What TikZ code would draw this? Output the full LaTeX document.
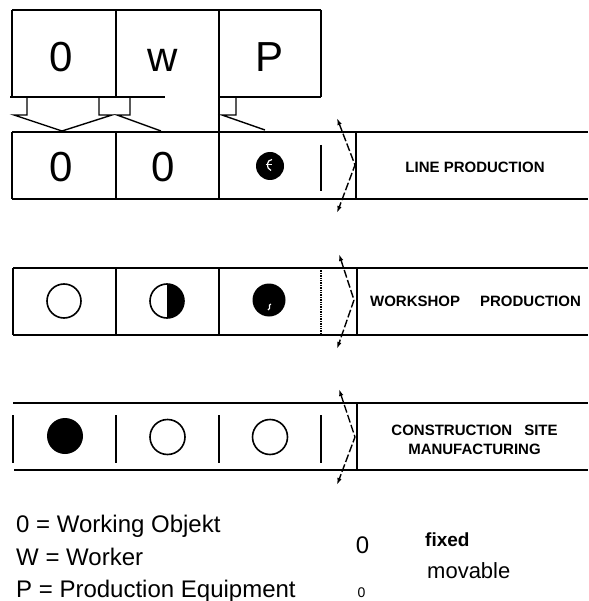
\documentclass[tikz,border=0pt]{standalone}
\usepackage{fontspec}
\setmainfont{Liberation Sans}
\usetikzlibrary{arrows.meta}
\begin{document}
\begin{tikzpicture}[x=1pt,y=-1pt,
  frame/.style={line width=1.7pt},
  thinrule/.style={line width=1.4pt},
  ring/.style={line width=1.6pt},
  bigtxt/.style={font=\fontsize{42}{42}\selectfont, inner sep=0pt, anchor=base},
  kindtxt/.style={font=\bfseries\fontsize{15}{19}\selectfont, inner sep=0pt, align=center},
  keytxt/.style={font=\fontsize{24}{24}\selectfont, inner sep=0pt, anchor=base west},
  flowmark/.style={line width=1.4pt, dash pattern=on 8pt off 2.5pt,
    {Latex[length=7pt,width=4.5pt]}-{Latex[length=7pt,width=4.5pt]}},
  feed/.style={line width=1.4pt, line join=miter},
]
\useasboundingbox (0,0) rectangle (588,601);

% ---- input cells: object, worker, equipment
\draw[frame] (12,10) -- (321,10);
\draw[frame] (12,10) -- (12,97);
\draw[frame] (116,10) -- (116,97);
\draw[frame] (219,10) -- (219,199);
\draw[frame] (321,10) -- (321,97);
\draw[frame] (10,97) -- (165,97);
\draw[frame] (219,97) -- (321,97);
\node[bigtxt] (inO) at (61,72) {0};
\node[bigtxt] (inW) at (163,72) {w};
\node[bigtxt] (inP) at (270,72) {P};

% ---- feed arrows into the first row
\draw[feed] (27,97) -- (27,115) -- (14,115) -- (62,131) -- (112,115) -- (99,115) -- (99,97);
\draw[feed] (130,97) -- (130,115) -- (117,115) -- (161,131);
\draw[feed] (236,97) -- (236,115) -- (222,115) -- (265,130);

% ---- row 1: line production
\draw[frame] (12,132) -- (588,132);
\draw[frame] (12,199) -- (588,199);
\draw[frame] (12,132) -- (12,199);
\draw[frame] (116,132) -- (116,199);
\draw[thinrule] (321,145) -- (321,191);
\draw[frame] (356,132) -- (356,199);
\draw[flowmark] (337,118) -- (355,165) -- (337,213);
\node[bigtxt] (r1O) at (61,182) {0};
\node[bigtxt] (r1W) at (163,182) {0};
\fill (270,166) circle (14);
\draw[white, line width=1.2pt] (272,159.5) .. controls (266.5,159.5) and (265.5,168.5) .. (271,170.5);
\draw[white, line width=1pt] (265.5,165) -- (272,165);
\node[kindtxt] (r1lab) at (475,167) {LINE PRODUCTION};

% ---- row 2: workshop production
\draw[frame] (13,268) -- (588,268);
\draw[frame] (13,335) -- (588,335);
\draw[frame] (13,268) -- (13,335);
\draw[frame] (116,268) -- (116,335);
\draw[frame] (219,268) -- (219,335);
\draw[thinrule, densely dotted] (321,268) -- (321,335);
\draw[frame] (357,268) -- (357,335);
\draw[flowmark] (339,254) -- (354,300) -- (337,349);
\draw[ring] (64,301) circle (17);
\fill (167,301) -- ++(0,-17) arc[start angle=-90, end angle=90, radius=17] -- cycle;
\draw[ring] (167,301) circle (17);
\fill (269,300) circle (16.5);
\draw[white, line width=1.1pt] (271,304) .. controls (267,305) and (272,308) .. (268,310);
\node[kindtxt] (r2lab) at (475.5,301) {WORKSHOP\hspace{20pt}PRODUCTION};

% ---- row 3: construction site manufacturing
\draw[frame] (13,403) -- (588,403);
\draw[frame] (14,470) -- (588,470);
\draw[frame] (13,415) -- (13,463);
\draw[frame] (116,415) -- (116,463);
\draw[frame] (219,415) -- (219,463);
\draw[thinrule] (321,415) -- (321,463);
\draw[frame] (357,403) -- (357,470);
\draw[flowmark] (339,389) -- (355,437) -- (337,485);
\fill (65,436) circle (18);
\draw[ring] (167.5,437) circle (17.5);
\draw[ring] (270,437) circle (17.5);
\node[kindtxt] (r3lab) at (474.5,439.5) {CONSTRUCTION\hspace{12pt}SITE\\MANUFACTURING};

% ---- key
\node[keytxt] (keyO) at (16,532) {0 = Working Objekt};
\node[keytxt] (keyW) at (16,565) {W = Worker};
\node[keytxt] (keyP) at (16,597) {P = Production Equipment};
\node[font=\fontsize{24}{24}\selectfont, inner sep=0pt, anchor=base] (fixsym) at (362.5,553) {0};
\node[font=\bfseries\fontsize{19}{19}\selectfont, inner sep=0pt, anchor=base west] (fixtxt) at (425,546) {fixed};
\node[font=\fontsize{14}{14}\selectfont, inner sep=0pt, anchor=base] (movsym) at (361.5,597) {0};
\node[font=\fontsize{22}{22}\selectfont, inner sep=0pt, anchor=base west] (movtxt) at (427,578) {movable};
\end{tikzpicture}
\end{document}
